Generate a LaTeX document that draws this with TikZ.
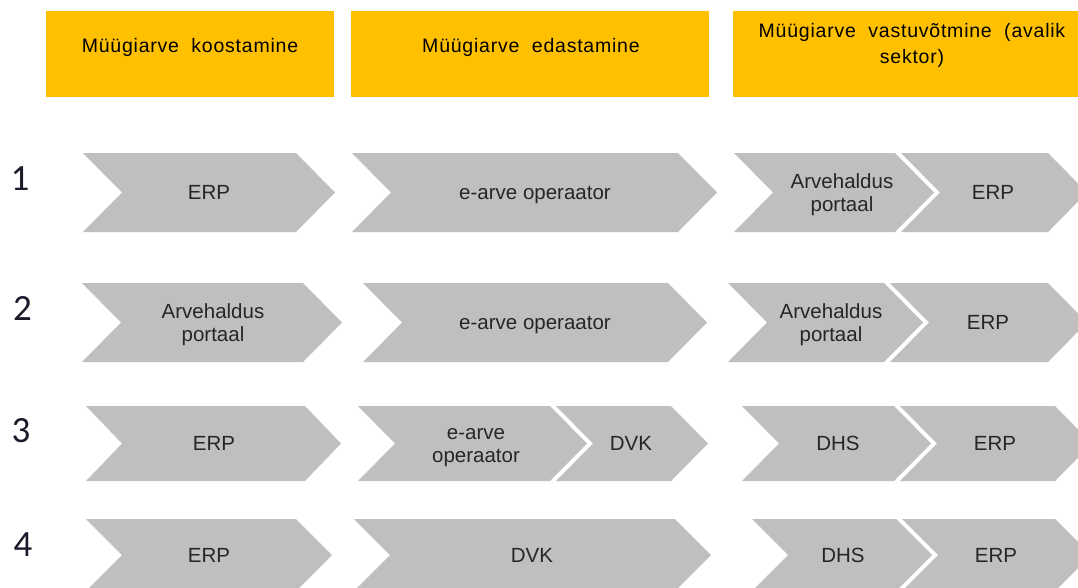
\documentclass[tikz,border=0pt]{standalone}
\usepackage{fontspec}
\newfontfamily\lbfont{Liberation Sans}
\newfontfamily\hdfont[LetterSpace=4]{Liberation Sans}
\newfontfamily\digfont{Carlito}
\definecolor{hdyellow}{HTML}{FFC000}
\definecolor{chgray}{HTML}{BFBFBF}
\definecolor{txtdark}{HTML}{262626}
\definecolor{digcol}{HTML}{1A1A2A}
\tikzset{
  chevfill/.style={fill=chgray},
  hdbox/.style={fill=hdyellow},
  lbl/.style={font=\lbfont\fontsize{20.5}{23}\selectfont, text=txtdark, align=center, inner sep=0pt, text height=14.7pt, text depth=0pt},
  twoline/.style={yshift=-11.5pt},
  hdlbl/.style={font=\hdfont\fontsize{19.5}{26}\selectfont, text=black, align=center, inner sep=0pt, text height=14pt, text depth=0pt},
  rownum/.style={font=\digfont\fontsize{37}{37}\selectfont, text=digcol, inner sep=0pt}
}
\newcommand{\chev}[9][]{%
  \fill[chevfill] (#3,#5) -- (#4,#5) -- ({#4+#7},{(#5+#6)/2}) -- (#4,#6) -- (#3,#6) -- ({#3+#7},{(#5+#6)/2}) -- cycle;
  \node[lbl,#1] (#2) at (#8,{(#5+#6)/2}) {#9};
}
\begin{document}
\begin{tikzpicture}[x=1pt,y=-1pt]
\useasboundingbox (0,0) rectangle (1078,587);
\clip (0,0) rectangle (1078,587);
\fill[white] (0,0) rectangle (1078,587);
% headers
\fill[hdbox] (46,11) rectangle (334,97);
\fill[hdbox] (351,11) rectangle (709,97);
\fill[hdbox] (733,11) rectangle (1091,97);
\node[hdlbl] (h1) at (190,45) {Müügiarve\ \ koostamine};
\node[hdlbl] (h2) at (531,45) {Müügiarve\ \ edastamine};
\node[hdlbl] (h3) at (912,56.5) {Müügiarve\ \ vastuvõtmine\ \ (avalik\\sektor)};
% row numbers
\node[rownum] (n1) at (20,179) {1};
\node[rownum] (n2) at (22.5,308) {2};
\node[rownum] (n3) at (21,431) {3};
\node[rownum] (n4) at (23,545) {4};
% row 1
\chev{c11}{83}{296}{153}{232}{39}{209}{ERP}
\chev{c12}{352}{678}{153}{232}{39}{535}{e-arve operaator}
\chev[twoline]{c13}{734}{895}{153}{232}{39}{842}{Arvehaldus\\portaal}
\chev{c14}{901}{1048}{153}{232}{39}{993}{ERP}
% row 2
\chev[twoline]{c21}{82}{303}{283}{362}{39}{213}{Arvehaldus\\portaal}
\chev{c22}{363}{668}{283}{362}{39}{535}{e-arve operaator}
\chev[twoline]{c23}{728}{884}{283}{362}{39}{831}{Arvehaldus\\portaal}
\chev{c24}{890}{1048}{283}{362}{39}{988}{ERP}
% row 3
\chev{c31}{86}{305}{406}{481}{36}{214}{ERP}
\chev[twoline]{c32}{358}{550}{406}{481}{37}{476}{e-arve\\operaator}
\chev{c33}{556}{671}{406}{481}{37}{631}{DVK}
\chev{c34}{742}{894}{406}{481}{37}{838}{DHS}
\chev{c35}{900}{1055}{406}{481}{37}{995}{ERP}
% row 4
\chev{c41}{86}{296}{519}{591}{36}{209}{ERP}
\chev{c42}{354}{675}{519}{591}{36}{532}{DVK}
\chev{c43}{752}{896}{519}{591}{36}{843}{DHS}
\chev{c44}{902}{1055}{519}{591}{36}{996}{ERP}
\end{tikzpicture}
\end{document}
